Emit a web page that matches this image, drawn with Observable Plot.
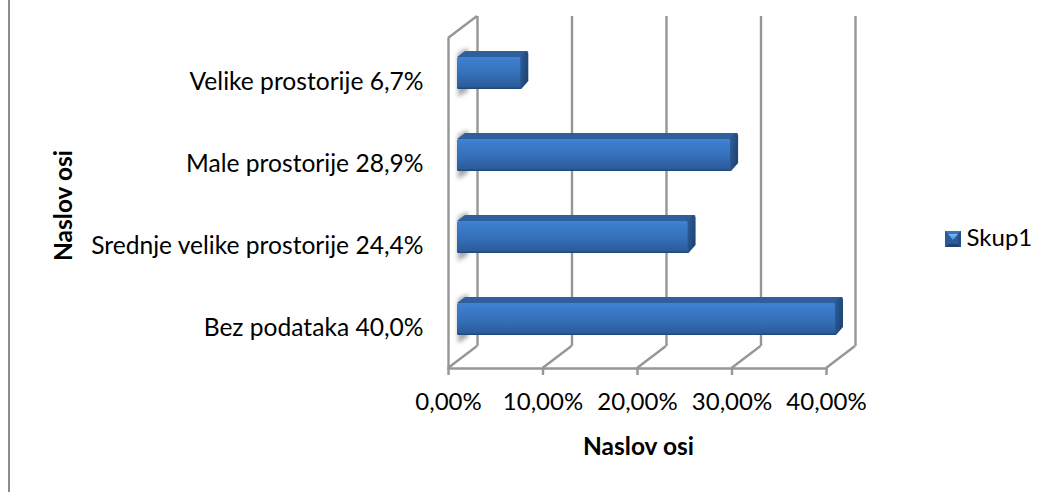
<!DOCTYPE html>
<html><head><meta charset="utf-8">
<script src="https://cdn.jsdelivr.net/npm/d3@7"></script>
<script src="https://cdn.jsdelivr.net/npm/@observablehq/plot@0.6"></script>
<style>
html,body{margin:0;padding:0;background:#fff;overflow:hidden}
#chart{position:relative;width:1046px;height:492px}
#frame{position:absolute;left:8px;top:0;width:2px;height:492px;background:#8c8c8c}
svg{position:absolute;left:0;top:0;font-family:Lato,sans-serif}
</style></head><body><div id="chart"><div id="frame"></div></div>
<script>
const categories = ["Velike prostorije 6,7%","Male prostorije 28,9%","Srednje velike prostorije 24,4%","Bez podataka 40,0%"];
const values = [0.067,0.289,0.244,0.40];
const xTicks = [0,0.1,0.2,0.3,0.4];
const xTickLabels = ["0,00%","10,00%","20,00%","30,00%","40,00%"];
const seriesName = "Skup1";
const axisTitle = "Naslov osi";
const rows = categories.map((c,i)=>({c,v:values[i]}));

const gridColor = "#969696";
const gridWidth = 2.4;
const wall = {dx:29, dy:-22};
const bar = {dx:9, dy:-7, sx:8, sy:-6};
const NS = "http://www.w3.org/2000/svg";
const el = (p,n,a)=>{const e=document.createElementNS(NS,n);for(const k in a)e.setAttribute(k,a[k]);p.appendChild(e);return e;};
const pts = a=>a.map(p=>p.join(",")).join(" ");

function gradient(defs,id,stops,x2=0,y2=1){
  const g=el(defs,"linearGradient",{id,x1:0,y1:0,x2,y2});
  stops.forEach(([o,c])=>el(g,"stop",{offset:o,"stop-color":c}));
}
function boxFrame(index,{x,y},_,dim){
  const g=document.createElementNS(NS,"g");
  const defs=el(g,"defs",{});
  gradient(defs,"front",[[0,"#3f82d6"],[0.12,"#3d7dcd"],[0.55,"#356fb8"],[0.92,"#2c5c9b"],[1,"#1f4473"]]);
  gradient(defs,"side",[[0,"#3268ab"],[0.35,"#2b5a96"],[1,"#1f4676"]],1,0.4);
  gradient(defs,"swTop",[[0,"#7ab8f5"],[1,"#4a90e0"]]);
  const f=el(defs,"filter",{id:"blur",x:"-50%",y:"-50%",width:"200%",height:"200%"});
  el(f,"feGaussianBlur",{stdDeviation:2.2});
  const top=dim.marginTop, bot=dim.height-dim.marginBottom;
  const line=(x1,y1,x2,y2)=>el(g,"line",{x1,y1,x2,y2,stroke:gridColor,"stroke-width":gridWidth});
  for(const t of xTicks){ line(x(t),bot,x(t)+wall.dx,bot+wall.dy); }
  line(x(0),top,x(0)+wall.dx,top+wall.dy);
  return g;
}
function bars3d(index,{x,y},_,dim){
  const g=document.createElementNS(NS,"g");
  const h=y.bandwidth();
  rows.forEach(r=>{
    const x0=x(0)+bar.dx, x1=x(r.v)+bar.dx, y0=y(r.c)+bar.dy, y1=y0+h;
    el(g,"polygon",{points:pts([[x0+1,y0-4],[x0+11,y0-9],[x0+11,y1+2],[x0+1,y1+8]]),fill:"#8a8a8a",opacity:0.75,filter:"url(#blur)"});
    el(g,"polygon",{points:pts([[x0,y0],[x0+bar.sx,y0+bar.sy],[x1+bar.sx-1,y0+bar.sy],[x1+bar.sx,y0+bar.sy+1],[x1,y0+1]]),fill:"#2f5f9c"});
    el(g,"polygon",{points:pts([[x1-3,y0],[x1+bar.sx-2,y0+bar.sy],[x1+bar.sx,y0+bar.sy+2],[x1+bar.sx,y1+bar.sy-2],[x1+1,y1],[x1-3,y1]]),fill:"url(#side)"});
    el(g,"rect",{x:x0,y:y0,width:x1-x0,height:h,rx:1.5,fill:"url(#front)"});
  });
  return g;
}
function legend(index,s,_,dim){
  const g=document.createElementNS(NS,"g");
  const a=945,b=961,c=231,d=247,i=3;
  el(g,"rect",{x:a,y:c,width:b-a,height:d-c,fill:"#2d5c98"});
  el(g,"polygon",{points:pts([[a,c],[b,c],[b-i,c+i],[a+i,c+i]]),fill:"#3a74bd"});
  el(g,"polygon",{points:pts([[a+i,c+i],[b-i,c+i],[(a+b)/2,c+9]]),fill:"url(#swTop)"});
  el(g,"polygon",{points:pts([[a,d],[b,d],[b-i,d-i],[a+i,d-i]]),fill:"#1f4473"});
  el(g,"polygon",{points:pts([[a,c],[a+i,c+i],[a+i,d-i],[a,d]]),fill:"#2a5a97"});
  el(g,"polygon",{points:pts([[b,c],[b-i,c+i],[b-i,d-i],[b,d]]),fill:"#24508a"});
  return g;
}

const plot = Plot.plot({
  width:1046, height:492,
  marginLeft:448, marginRight:220, marginTop:38, marginBottom:124,
  style:{fontFamily:"Lato,sans-serif",background:"transparent",overflow:"visible"},
  x:{domain:[0,0.4], label:null},
  y:{type:"band",domain:categories, paddingInner:0.61, paddingOuter:0.305, label:null},
  marks:[
    boxFrame,
    Plot.frame({anchor:"bottom",stroke:gridColor,strokeWidth:gridWidth}),
    Plot.ruleX(xTicks,{x:d=>d,dx:wall.dx,dy:wall.dy,stroke:gridColor,strokeWidth:gridWidth,strokeOpacity:1}),
    Plot.ruleX([0],{x:d=>d,stroke:gridColor,strokeWidth:gridWidth}),
    Plot.axisX({ticks:xTicks,tickFormat:(d,i)=>xTickLabels[i],tickSize:7,tickPadding:17,stroke:gridColor,strokeWidth:gridWidth,strokeOpacity:1,fontSize:24,label:null,fill:"#000"}),
    Plot.axisY({tickSize:0,tickPadding:25,dy:1.5,fontSize:24.6,label:null,fill:"#000"}),
    Plot.text([axisTitle],{text:d=>d,frameAnchor:"bottom-left",textAnchor:"middle",dx:190,dy:86,fontSize:24.5,fontWeight:"bold",fill:"#000"}),
    Plot.text([axisTitle],{text:d=>d,frameAnchor:"left",textAnchor:"middle",dx:-384,dy:2,rotate:-90,fontSize:24.5,fontWeight:"bold",fill:"#000"}),
    Plot.text([seriesName],{text:d=>d,frameAnchor:"right",dx:140,dy:35,textAnchor:"start",fontSize:24,fill:"#000"}),
    bars3d,
    legend
  ]
});
document.getElementById("chart").appendChild(plot);
</script></body></html>
